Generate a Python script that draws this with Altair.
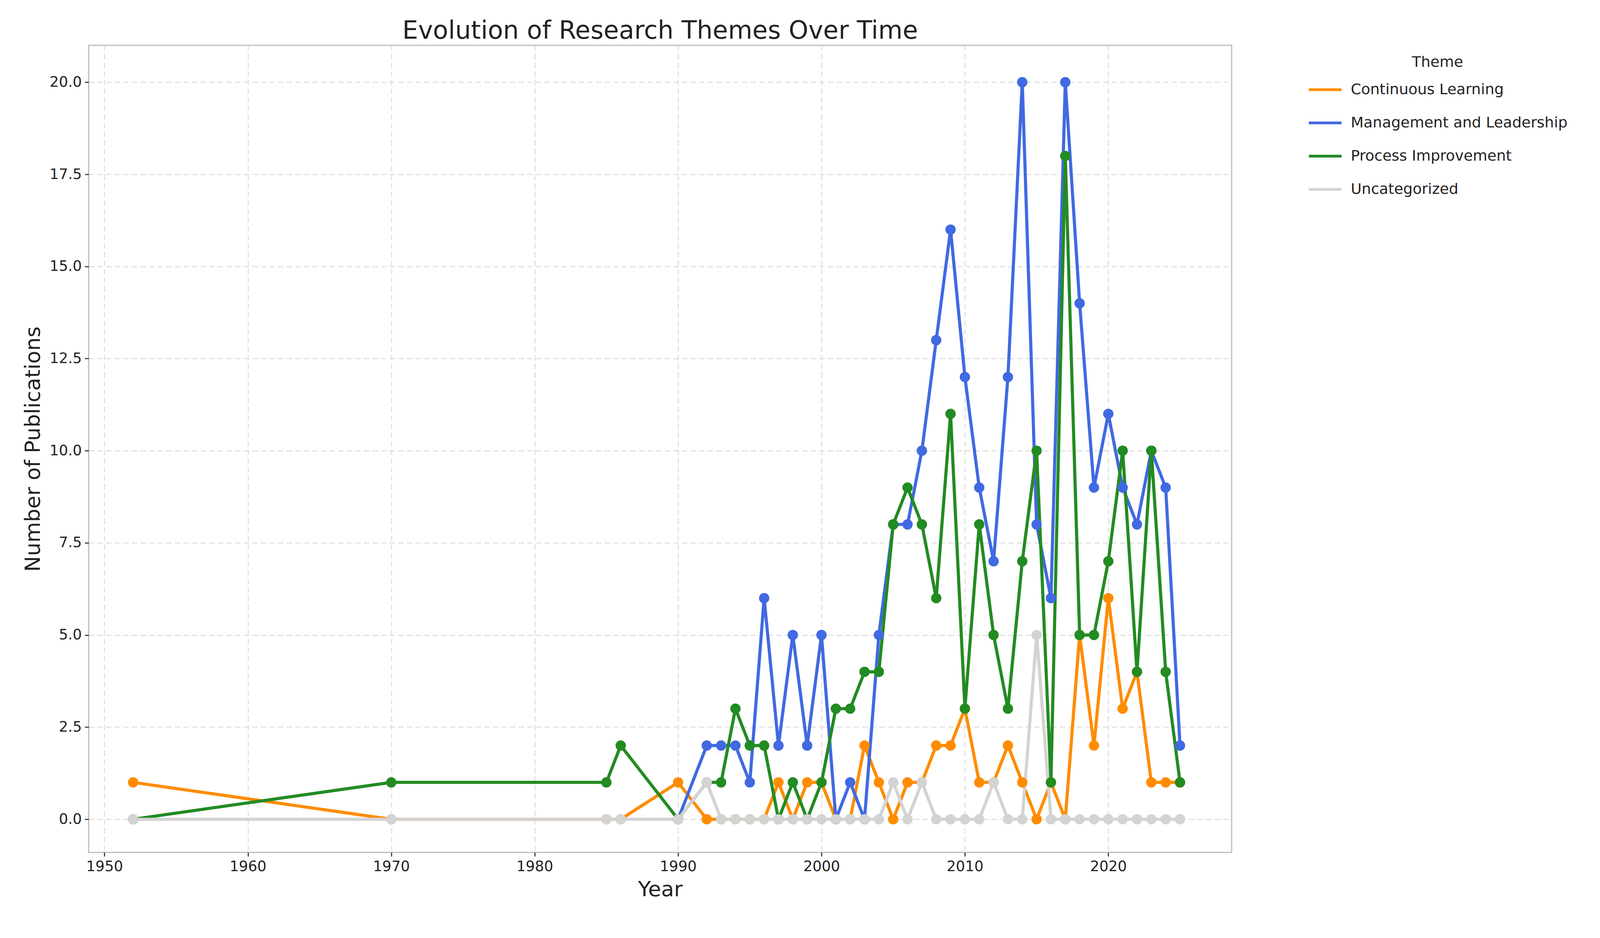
import altair as alt
import pandas as pd

years = [1952, 1970, 1985, 1986, 1990] + list(range(1992, 2026))

continuous = [1, 0, 0, 0, 1,
              0, 0, 0, 0, 0, 1, 0, 1, 1, 0, 0, 2, 1, 0, 1, 1, 2, 2, 3, 1, 1, 2, 1, 0, 1, 0, 5, 2, 6, 3, 4, 1, 1, 1]
management = [None, None, None, None, 0,
              2, 2, 2, 1, 6, 2, 5, 2, 5, 0, 1, 0, 5, 8, 8, 10, 13, 16, 12, 9, 7, 12, 20, 8, 6, 20, 14, 9, 11, 9, 8, 10, 9, 2]
process = [0, 1, 1, 2, 0,
           1, 1, 3, 2, 2, 0, 1, 0, 1, 3, 3, 4, 4, 8, 9, 8, 6, 11, 3, 8, 5, 3, 7, 10, 1, 18, 5, 5, 7, 10, 4, 10, 4, 1]
uncategorized = [0, 0, 0, 0, 0,
                 1, 0, 0, 0, 0, 0, 0, 0, 0, 0, 0, 0, 0, 1, 0, 1, 0, 0, 0, 0, 1, 0, 0, 5, 0, 0, 0, 0, 0, 0, 0, 0, 0, 0]

themes = ["Continuous Learning", "Management and Leadership", "Process Improvement", "Uncategorized"]
colors = ["#ff8c00", "#4169e1", "#228b22", "#d3d3d3"]

rows = []
for i, (name, vals) in enumerate(zip(themes, [continuous, management, process, uncategorized])):
    for y, v in zip(years, vals):
        if v is not None:
            rows.append({"Year": y, "Count": v, "Theme": name, "k": i})
df = pd.DataFrame(rows)

base = alt.Chart(df).encode(
    x=alt.X("Year:Q", scale=alt.Scale(domain=[1948.9, 2028.6], nice=False, zero=False),
            axis=alt.Axis(values=list(range(1950, 2030, 10)), format="d", title="Year")),
    y=alt.Y("Count:Q", scale=alt.Scale(domain=[-0.9, 21], nice=False, zero=False),
            axis=alt.Axis(values=[i * 2.5 for i in range(9)], format=".1f", title="Number of Publications")),
    color=alt.Color("Theme:N", scale=alt.Scale(domain=themes, range=colors),
                    legend=alt.Legend(title="Theme", orient="none", legendX=3120, legendY=25,
                                      symbolType="stroke", symbolStrokeWidth=7, symbolSize=7000,
                                      titleFontSize=38, labelFontSize=38, titleFontWeight="normal",
                                      titleAnchor="middle", rowPadding=20, labelOffset=20, labelLimit=800)),
    order="k:Q",
)

lines = base.mark_line(strokeWidth=8)
points = base.mark_point(filled=True, size=700, opacity=1)

chart = (lines + points).properties(
    width=2926, height=2065,
    padding={"left": 50, "top": 40, "right": 5, "bottom": 5},
    title=alt.TitleParams("Evolution of Research Themes Over Time", fontSize=64, fontWeight="normal", color="#222"),
).configure(font="DejaVu Sans").configure_axis(
    grid=True, gridDash=[14, 8], gridColor="#dddddd", gridWidth=2.5,
    labelFontSize=37, titleFontSize=54, titleFontWeight="normal", labelColor="#222", titleColor="#222",
    tickSize=10, tickWidth=2.5, tickColor="#222", domain=False, labelPadding=8, titlePadding=14,
).configure_view(stroke="#bbbbbb", strokeWidth=3).configure_legend(labelColor="#222", titleColor="#222")

chart.save("out.html", embed_options={"renderer": "svg", "actions": False})
